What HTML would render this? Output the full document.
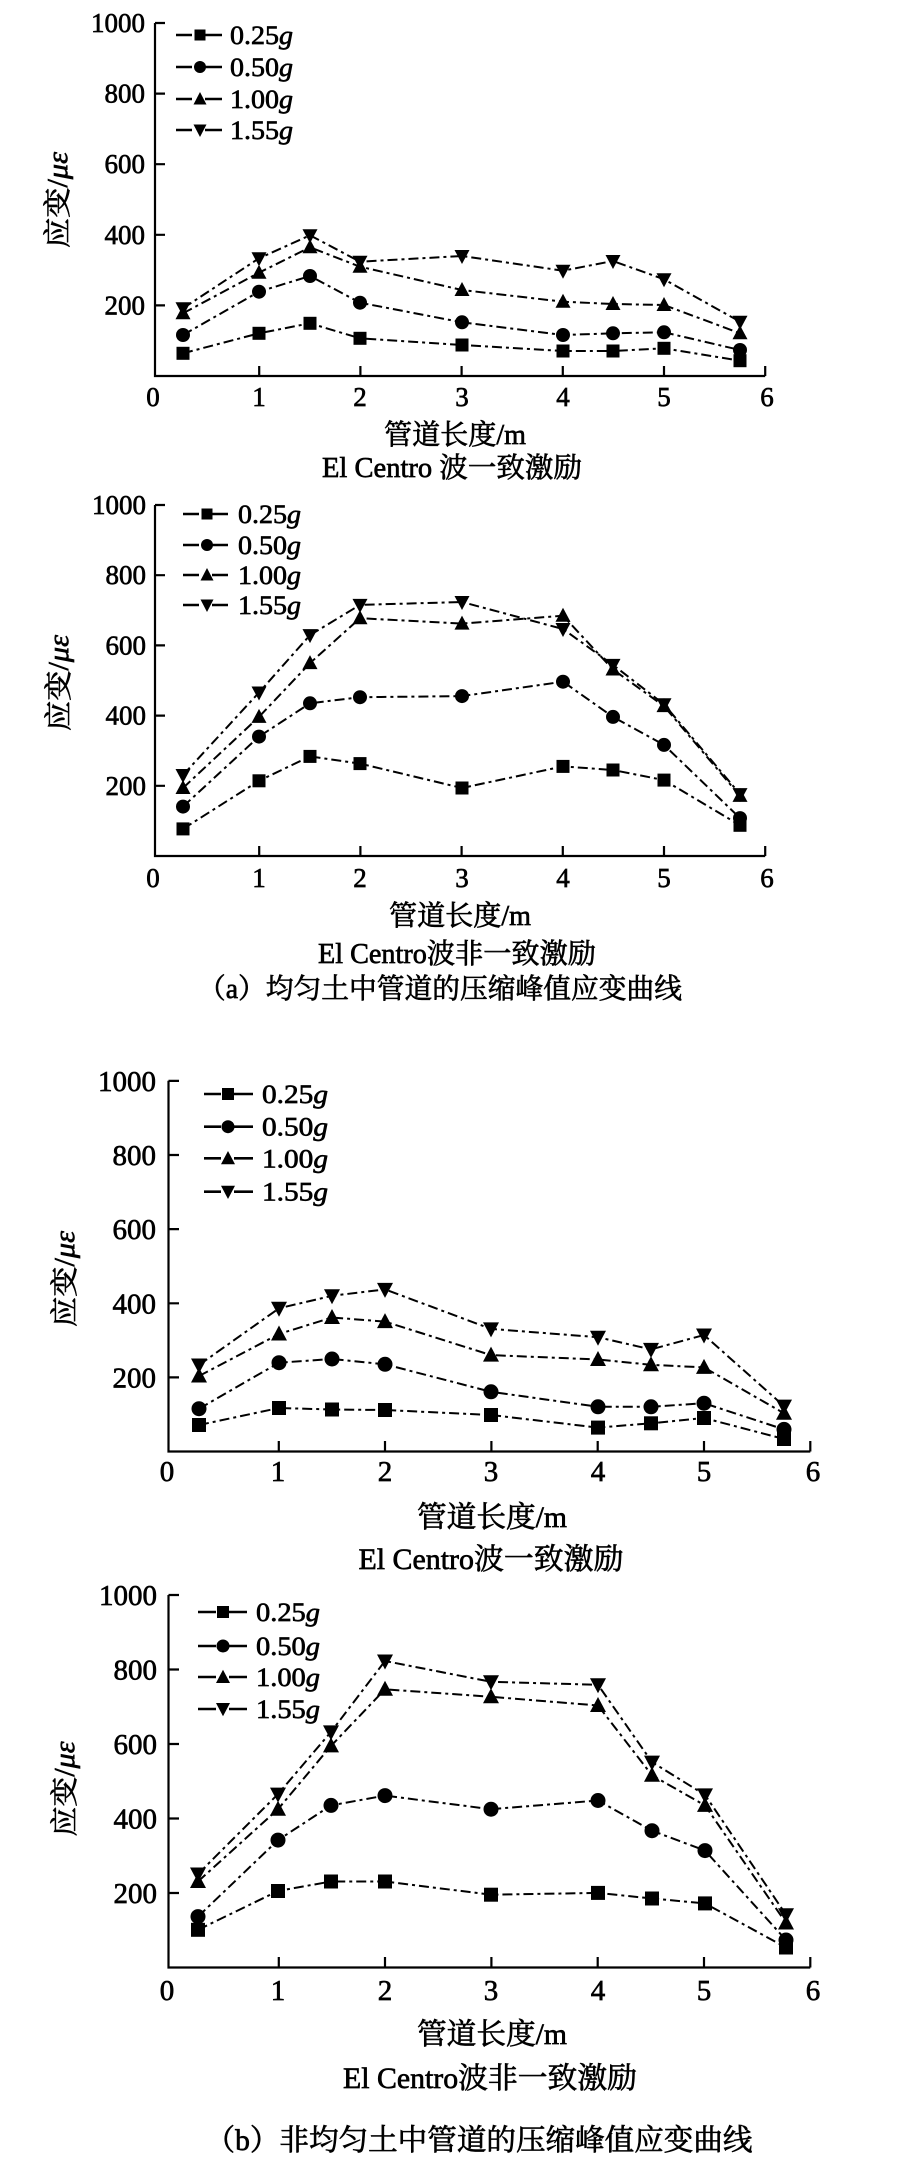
<!DOCTYPE html>
<html>
<head>
<meta charset="utf-8">
<style>
html,body{margin:0;padding:0;background:#fff;}
svg{display:block;}
text{font-family:"Liberation Serif","Noto Serif CJK SC",serif;fill:#000;stroke:#000;stroke-width:0.65;}
.tk{font-size:27px;}
.tk2{font-size:29px;}
.lg{font-size:26px;}
.ti{font-size:28px;}
.ti2{font-size:29.5px;}
.ax{stroke:#000;stroke-width:2.2;fill:none;}
.sr{stroke:#000;stroke-width:2;fill:none;stroke-dasharray:10 4 3 4;}
.lgl{stroke:#000;stroke-width:2.6;fill:none;}
</style>
</head>
<body>
<svg width="903" height="2168" viewBox="0 0 903 2168" xmlns="http://www.w3.org/2000/svg">
<defs>
  <marker id="sqA" viewBox="-9 -9 18 18" refX="0" refY="0" markerWidth="18" markerHeight="18" markerUnits="userSpaceOnUse" orient="0"><rect x="-6.5" y="-6.5" width="13" height="13" fill="#000"/></marker>
  <marker id="ciA" viewBox="-9 -9 18 18" refX="0" refY="0" markerWidth="18" markerHeight="18" markerUnits="userSpaceOnUse" orient="0"><circle r="7" fill="#000"/></marker>
  <marker id="tuA" viewBox="-9 -9 18 18" refX="0" refY="0" markerWidth="18" markerHeight="18" markerUnits="userSpaceOnUse" orient="0"><path d="M0,-8L7.5,6L-7.5,6Z" fill="#000"/></marker>
  <marker id="tdA" viewBox="-9 -9 18 18" refX="0" refY="0" markerWidth="18" markerHeight="18" markerUnits="userSpaceOnUse" orient="0"><path d="M0,8L7.5,-6L-7.5,-6Z" fill="#000"/></marker>
  <marker id="sqB" viewBox="-9 -9 18 18" refX="0" refY="0" markerWidth="18" markerHeight="18" markerUnits="userSpaceOnUse" orient="0"><rect x="-7" y="-7" width="14" height="14" fill="#000"/></marker>
  <marker id="ciB" viewBox="-9 -9 18 18" refX="0" refY="0" markerWidth="18" markerHeight="18" markerUnits="userSpaceOnUse" orient="0"><circle r="7.5" fill="#000"/></marker>
  <marker id="tuB" viewBox="-9 -9 18 18" refX="0" refY="0" markerWidth="18" markerHeight="18" markerUnits="userSpaceOnUse" orient="0"><path d="M0,-8.5L8,6.5L-8,6.5Z" fill="#000"/></marker>
  <marker id="tdB" viewBox="-9 -9 18 18" refX="0" refY="0" markerWidth="18" markerHeight="18" markerUnits="userSpaceOnUse" orient="0"><path d="M0,8.5L8,-6.5L-8,-6.5Z" fill="#000"/></marker>
</defs>

<!-- ================= CHART 1 ================= -->
<g>
  <path class="ax" d="M155,23V376H765.2"/>
  <path class="ax" d="M155,23H165M155,93.6H165M155,164.2H165M155,234.8H165M155,305.4H165"/>
  <path class="ax" d="M259.2,376V366M360.4,376V366M461.6,376V366M562.8,376V366M664,376V366M765.2,376V366"/>
  <g class="tk" text-anchor="end">
    <text x="145" y="32">1000</text>
    <text x="145" y="102.6">800</text>
    <text x="145" y="173.2">600</text>
    <text x="145" y="243.8">400</text>
    <text x="145" y="314.4">200</text>
  </g>
  <g class="tk" text-anchor="middle">
    <text x="153" y="406">0</text>
    <text x="259" y="406">1</text>
    <text x="360" y="406">2</text>
    <text x="462" y="406">3</text>
    <text x="563" y="406">4</text>
    <text x="664" y="406">5</text>
    <text x="767" y="406">6</text>
  </g>
  <text class="ti" transform="translate(57,200) rotate(-90)" x="0" y="10" text-anchor="middle" textLength="96" lengthAdjust="spacingAndGlyphs">应变/<tspan font-style="italic">με</tspan></text>
  <text class="ti" x="455" y="444" text-anchor="middle" textLength="142" lengthAdjust="spacingAndGlyphs">管道长度/m</text>
  <text class="ti" x="452" y="477" text-anchor="middle" textLength="260" lengthAdjust="spacingAndGlyphs">El Centro 波一致激励</text>

  <g>
    <path class="lgl" d="M176,35H192M205,35H222"/><rect x="194.5" y="29.5" width="11" height="11"/>
    <text class="lg" x="230" y="44" textLength="63" lengthAdjust="spacingAndGlyphs">0.25<tspan font-style="italic">g</tspan></text>
    <path class="lgl" d="M176,67H192M205,67H222"/><circle cx="200" cy="67" r="6"/>
    <text class="lg" x="230" y="76" textLength="63" lengthAdjust="spacingAndGlyphs">0.50<tspan font-style="italic">g</tspan></text>
    <path class="lgl" d="M176,99H192M205,99H222"/><path d="M200,92L206.5,104.5L193.5,104.5Z"/>
    <text class="lg" x="230" y="108" textLength="63" lengthAdjust="spacingAndGlyphs">1.00<tspan font-style="italic">g</tspan></text>
    <path class="lgl" d="M176,130H192M205,130H222"/><path d="M200,137L206.5,124.5L193.5,124.5Z"/>
    <text class="lg" x="230" y="139" textLength="63" lengthAdjust="spacingAndGlyphs">1.55<tspan font-style="italic">g</tspan></text>
  </g>

  <polyline class="sr" marker-start="url(#sqA)" marker-mid="url(#sqA)" marker-end="url(#sqA)" points="183,353.3 259,333.3 310,323.3 360,338.3 462,345 563,351 613,351 664,348.3 740,360.7"/>
  <polyline class="sr" marker-start="url(#ciA)" marker-mid="url(#ciA)" marker-end="url(#ciA)" points="183,335 259,291.7 310,276 360,302.7 462,322.3 563,335 613,333.3 664,332.3 740,350"/>
  <polyline class="sr" marker-start="url(#tuA)" marker-mid="url(#tuA)" marker-end="url(#tuA)" points="183,313.3 259,272.7 310,247.3 360,266.7 462,290 563,301.7 613,304 664,305 740,333.3"/>
  <polyline class="sr" marker-start="url(#tdA)" marker-mid="url(#tdA)" marker-end="url(#tdA)" points="183,308.3 259,258.3 310,235.3 360,261.7 462,256 563,270.7 613,261 664,279.3 740,321.7"/>
</g>

<!-- ================= CHART 2 ================= -->
<g>
  <path class="ax" d="M155,505V856H765.2"/>
  <path class="ax" d="M155,505H165M155,575.2H165M155,645.4H165M155,715.6H165M155,785.8H165"/>
  <path class="ax" d="M259.2,856V846M360.4,856V846M461.6,856V846M562.8,856V846M664,856V846M765.2,856V846"/>
  <g class="tk" text-anchor="end">
    <text x="146" y="514">1000</text>
    <text x="146" y="584.2">800</text>
    <text x="146" y="654.4">600</text>
    <text x="146" y="724.6">400</text>
    <text x="146" y="794.8">200</text>
  </g>
  <g class="tk" text-anchor="middle">
    <text x="153" y="887">0</text>
    <text x="259" y="887">1</text>
    <text x="360" y="887">2</text>
    <text x="462" y="887">3</text>
    <text x="563" y="887">4</text>
    <text x="664" y="887">5</text>
    <text x="767" y="887">6</text>
  </g>
  <text class="ti" transform="translate(58,683) rotate(-90)" x="0" y="10" text-anchor="middle" textLength="96" lengthAdjust="spacingAndGlyphs">应变/<tspan font-style="italic">με</tspan></text>
  <text class="ti" x="460" y="925" text-anchor="middle" textLength="142" lengthAdjust="spacingAndGlyphs">管道长度/m</text>
  <text class="ti" x="457" y="963" text-anchor="middle" textLength="278" lengthAdjust="spacingAndGlyphs">El Centro波非一致激励</text>
  <text class="ti" x="440" y="998" text-anchor="middle" textLength="484" lengthAdjust="spacingAndGlyphs">（a）均匀土中管道的压缩峰值应变曲线</text>

  <g>
    <path class="lgl" d="M183,514H199M212,514H228"/><rect x="201.5" y="508.5" width="11" height="11"/>
    <text class="lg" x="238" y="523" textLength="63" lengthAdjust="spacingAndGlyphs">0.25<tspan font-style="italic">g</tspan></text>
    <path class="lgl" d="M183,545H199M212,545H228"/><circle cx="207" cy="545" r="6"/>
    <text class="lg" x="238" y="554" textLength="63" lengthAdjust="spacingAndGlyphs">0.50<tspan font-style="italic">g</tspan></text>
    <path class="lgl" d="M183,575H199M212,575H228"/><path d="M207,568L213.5,580.5L200.5,580.5Z"/>
    <text class="lg" x="238" y="584" textLength="63" lengthAdjust="spacingAndGlyphs">1.00<tspan font-style="italic">g</tspan></text>
    <path class="lgl" d="M183,605H199M212,605H228"/><path d="M207,612L213.5,599.5L200.5,599.5Z"/>
    <text class="lg" x="238" y="614" textLength="63" lengthAdjust="spacingAndGlyphs">1.55<tspan font-style="italic">g</tspan></text>
  </g>

  <polyline class="sr" marker-start="url(#sqA)" marker-mid="url(#sqA)" marker-end="url(#sqA)" points="183,828.9 259,780.8 310,756.4 360,763.6 462,788 563,766.4 613,770 664,780.1 740,825.3"/>
  <polyline class="sr" marker-start="url(#ciA)" marker-mid="url(#ciA)" marker-end="url(#ciA)" points="183,806.6 259,736.6 310,703.3 360,697.2 462,696.1 563,681.7 613,716.9 664,744.9 740,818.1"/>
  <polyline class="sr" marker-start="url(#tuA)" marker-mid="url(#tuA)" marker-end="url(#tuA)" points="183,788 259,716.9 310,663.1 360,618.2 462,623.6 563,615.7 613,669.5 664,706.1 740,795.9"/>
  <polyline class="sr" marker-start="url(#tdA)" marker-mid="url(#tdA)" marker-end="url(#tdA)" points="183,775 259,692.5 310,635.1 360,604.9 462,602 563,629 613,664.9 664,704.3 740,794.1"/>
</g>

<!-- ================= CHART 3 ================= -->
<g>
  <path class="ax" d="M168.5,1080.8V1451.5H810.3"/>
  <path class="ax" d="M168.5,1080.9H179M168.5,1155H179M168.5,1229.1H179M168.5,1303.3H179M168.5,1377.4H179"/>
  <path class="ax" d="M278.8,1451.5V1441M385,1451.5V1441M491.4,1451.5V1441M597.7,1451.5V1441M704,1451.5V1441M810.3,1451.5V1441"/>
  <g class="tk2" text-anchor="end">
    <text x="156" y="1090.9">1000</text>
    <text x="156" y="1165">800</text>
    <text x="156" y="1239.1">600</text>
    <text x="156" y="1313.3">400</text>
    <text x="156" y="1387.4">200</text>
  </g>
  <g class="tk2" text-anchor="middle">
    <text x="167" y="1481">0</text>
    <text x="278" y="1481">1</text>
    <text x="385" y="1481">2</text>
    <text x="491" y="1481">3</text>
    <text x="598" y="1481">4</text>
    <text x="704" y="1481">5</text>
    <text x="813" y="1481">6</text>
  </g>
  <text class="ti" transform="translate(64,1279) rotate(-90)" x="0" y="10" text-anchor="middle" textLength="96" lengthAdjust="spacingAndGlyphs">应变/<tspan font-style="italic">με</tspan></text>
  <text class="ti2" x="492" y="1527" text-anchor="middle" textLength="150" lengthAdjust="spacingAndGlyphs">管道长度/m</text>
  <text class="ti2" x="491" y="1569" text-anchor="middle" textLength="265" lengthAdjust="spacingAndGlyphs">El Centro波一致激励</text>

  <g>
    <path class="lgl" d="M204,1094H221M234,1094H253"/><rect x="222" y="1088" width="12" height="12"/>
    <text class="lg" x="262" y="1103" textLength="66" lengthAdjust="spacingAndGlyphs">0.25<tspan font-style="italic">g</tspan></text>
    <path class="lgl" d="M204,1126.7H221M234,1126.7H253"/><circle cx="228" cy="1126.7" r="6.5"/>
    <text class="lg" x="262" y="1135.7" textLength="66" lengthAdjust="spacingAndGlyphs">0.50<tspan font-style="italic">g</tspan></text>
    <path class="lgl" d="M204,1158.3H221M234,1158.3H253"/><path d="M228,1151L235,1164.3L221,1164.3Z"/>
    <text class="lg" x="262" y="1167.3" textLength="66" lengthAdjust="spacingAndGlyphs">1.00<tspan font-style="italic">g</tspan></text>
    <path class="lgl" d="M204,1191.7H221M234,1191.7H253"/><path d="M228,1199L235,1185.7L221,1185.7Z"/>
    <text class="lg" x="262" y="1200.7" textLength="66" lengthAdjust="spacingAndGlyphs">1.55<tspan font-style="italic">g</tspan></text>
  </g>

  <polyline class="sr" marker-start="url(#sqB)" marker-mid="url(#sqB)" marker-end="url(#sqB)" points="199,1425 279,1408 332,1409.5 385,1410 491,1415 598,1427.6 651,1423.3 704,1418 784,1439"/>
  <polyline class="sr" marker-start="url(#ciB)" marker-mid="url(#ciB)" marker-end="url(#ciB)" points="199,1408.7 279,1362.7 332,1359 385,1364.3 491,1391.8 598,1406.8 651,1406.8 704,1403.2 784,1429.4"/>
  <polyline class="sr" marker-start="url(#tuB)" marker-mid="url(#tuB)" marker-end="url(#tuB)" points="199,1376 279,1334 332,1317.5 385,1321.6 491,1355.1 598,1359.5 651,1364.8 704,1367.4 784,1413.3"/>
  <polyline class="sr" marker-start="url(#tdB)" marker-mid="url(#tdB)" marker-end="url(#tdB)" points="199,1365 279,1308.3 332,1295.8 385,1289.4 491,1328.9 598,1337.2 651,1349.4 704,1335 784,1406.1"/>
</g>

<!-- ================= CHART 4 ================= -->
<g>
  <path class="ax" d="M168.5,1595V1967.5H810.3"/>
  <path class="ax" d="M168.5,1595H179M168.5,1669.5H179M168.5,1744H179M168.5,1818.5H179M168.5,1893H179"/>
  <path class="ax" d="M278.8,1967.5V1957M385,1967.5V1957M491.4,1967.5V1957M597.7,1967.5V1957M704,1967.5V1957M810.3,1967.5V1957"/>
  <g class="tk2" text-anchor="end">
    <text x="157" y="1605">1000</text>
    <text x="157" y="1679.5">800</text>
    <text x="157" y="1754">600</text>
    <text x="157" y="1828.5">400</text>
    <text x="157" y="1903">200</text>
  </g>
  <g class="tk2" text-anchor="middle">
    <text x="167" y="2000">0</text>
    <text x="278" y="2000">1</text>
    <text x="385" y="2000">2</text>
    <text x="491" y="2000">3</text>
    <text x="598" y="2000">4</text>
    <text x="704" y="2000">5</text>
    <text x="813" y="2000">6</text>
  </g>
  <text class="ti" transform="translate(64,1789) rotate(-90)" x="0" y="10" text-anchor="middle" textLength="95" lengthAdjust="spacingAndGlyphs">应变/<tspan font-style="italic">με</tspan></text>
  <text class="ti2" x="492" y="2044" text-anchor="middle" textLength="150" lengthAdjust="spacingAndGlyphs">管道长度/m</text>
  <text class="ti2" x="490" y="2088" text-anchor="middle" textLength="294" lengthAdjust="spacingAndGlyphs">El Centro波非一致激励</text>
  <text class="ti2" x="479" y="2150" text-anchor="middle" textLength="547" lengthAdjust="spacingAndGlyphs">（b）非均匀土中管道的压缩峰值应变曲线</text>

  <g>
    <path class="lgl" d="M198,1612H216M229,1612H247"/><rect x="217" y="1606" width="12" height="12"/>
    <text class="lg" x="256" y="1621" textLength="64" lengthAdjust="spacingAndGlyphs">0.25<tspan font-style="italic">g</tspan></text>
    <path class="lgl" d="M198,1646H216M229,1646H247"/><circle cx="223" cy="1646" r="6.5"/>
    <text class="lg" x="256" y="1655" textLength="64" lengthAdjust="spacingAndGlyphs">0.50<tspan font-style="italic">g</tspan></text>
    <path class="lgl" d="M198,1677H216M229,1677H247"/><path d="M223,1669.7L230,1683L216,1683Z"/>
    <text class="lg" x="256" y="1686" textLength="64" lengthAdjust="spacingAndGlyphs">1.00<tspan font-style="italic">g</tspan></text>
    <path class="lgl" d="M198,1709H216M229,1709H247"/><path d="M223,1716.3L230,1703L216,1703Z"/>
    <text class="lg" x="256" y="1718" textLength="64" lengthAdjust="spacingAndGlyphs">1.55<tspan font-style="italic">g</tspan></text>
  </g>

  <polyline class="sr" marker-start="url(#sqB)" marker-mid="url(#sqB)" marker-end="url(#sqB)" points="198,1929.8 278,1891 331,1881.5 385,1881.5 491,1894.7 598,1892.9 652,1898.5 705,1903.4 786,1947.5"/>
  <polyline class="sr" marker-start="url(#ciB)" marker-mid="url(#ciB)" marker-end="url(#ciB)" points="198,1916.6 278,1840.1 331,1805.4 385,1795.6 491,1809.2 598,1800.5 652,1830.7 705,1850.6 786,1940"/>
  <polyline class="sr" marker-start="url(#tuB)" marker-mid="url(#tuB)" marker-end="url(#tuB)" points="198,1881.5 278,1809.2 331,1745.9 385,1689.3 491,1696.8 598,1705.5 652,1775.3 705,1805.4 786,1923"/>
  <polyline class="sr" marker-start="url(#tdB)" marker-mid="url(#tdB)" marker-end="url(#tdB)" points="198,1874 278,1794.1 331,1731.9 385,1661 491,1681.8 598,1684.8 652,1762.1 705,1794.9 786,1914.7"/>
</g>
</svg>
</body>
</html>
